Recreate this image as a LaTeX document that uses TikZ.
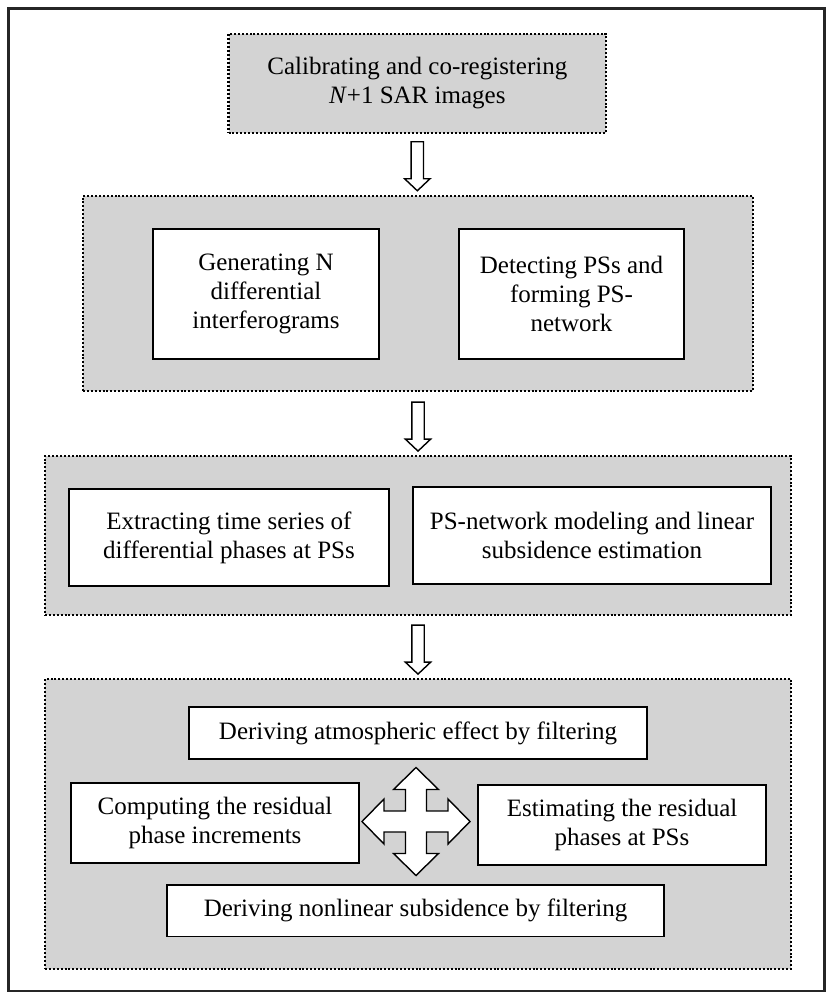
\documentclass[tikz,border=0pt]{standalone}
\usepackage{fontspec}
\setmainfont{Liberation Serif}
\usetikzlibrary{calc}
\definecolor{stagegray}{HTML}{D3D3D3}
\begin{document}
\begin{tikzpicture}[x=1pt,y=-1pt,
  stage/.style={draw=black, fill=stagegray, line width=2.2pt, dash pattern=on 2pt off 1.9pt, inner sep=0pt, align=center, font=\fontsize{25}{28.75}\selectfont},
  task/.style={draw=black, fill=white, line width=1.5pt, inner sep=0pt, align=center, font=\fontsize{25}{28.75}\selectfont},
  hollow/.style={draw=black, fill=white, line width=1.4pt, line join=miter},
  downarrow/.pic={\draw[hollow] (-6.2,0) -- (-6.2,37) -- (-12.7,37) -- (0,49) -- (12.7,37) -- (6.2,37) -- (6.2,0) -- cycle;},
  crossarrow/.pic={\draw[hollow] (0,-54) -- (22.5,-32) -- (10.5,-32) -- (10.5,-10.5) -- (32,-10.5) -- (32,-22.5) -- (54,0) -- (32,22.5) -- (32,10.5) -- (10.5,10.5) -- (10.5,32) -- (22.5,32) -- (0,54) -- (-22.5,32) -- (-10.5,32) -- (-10.5,10.5) -- (-32,10.5) -- (-32,22.5) -- (-54,0) -- (-32,-22.5) -- (-32,-10.5) -- (-10.5,-10.5) -- (-10.5,-32) -- (-22.5,-32) -- cycle;}
]
\useasboundingbox (0,0) rectangle (835,1000);
\draw[line width=2.2pt, draw=black!85] (8.5,8.5) rectangle (824.5,991);

% stage 1
\node[stage, minimum width=377.5, minimum height=98.7] (b1) at (417.3,83.3)
  {Calibrating and co-registering\\\textit{N}+1 SAR images};

% stage 2
\node[stage, minimum width=670, minimum height=195] (b2) at (418,293.5) {};
\node[task, minimum width=226, minimum height=130] (t2a) at (266,294)
  {Generating N\\differential\\interferograms};
\node[task, minimum width=225, minimum height=130] (t2b) at (571.5,294)
  {Detecting PSs and\\forming PS-\\network};

% stage 3
\node[stage, minimum width=746, minimum height=159] (b3) at (418,535.5) {};
\node[task, minimum width=320, minimum height=97] (t3a) at (229,537.5)
  {Extracting time series of\\differential phases at PSs};
\node[task, minimum width=358, minimum height=97] (t3b) at (592,535.5)
  {PS-network modeling and linear\\subsidence estimation};

% stage 4
\node[stage, minimum width=746, minimum height=290] (b4) at (418,824) {};
\node[task, minimum width=458, minimum height=52] (t4a) at (418,733)
  {Deriving atmospheric effect by filtering};
\node[task, minimum width=288, minimum height=80] (t4b) at (215,823)
  {Computing the residual\\phase increments};
\node[task, minimum width=288, minimum height=80] (t4c) at (622,825)
  {Estimating the residual\\phases at PSs};
\node[task, minimum width=497, minimum height=51.5] (t4d) at (415.5,910.7)
  {Deriving nonlinear subsidence by filtering};

% arrows
\path (b1.south) ++(0,8) pic {downarrow};
\path (b2.south) ++(0,10) pic {downarrow};
\path (b3.south) ++(0,9) pic {downarrow};
\coordinate (cc) at (416,821.5);
\path (cc) pic {crossarrow};
\end{tikzpicture}
\end{document}
